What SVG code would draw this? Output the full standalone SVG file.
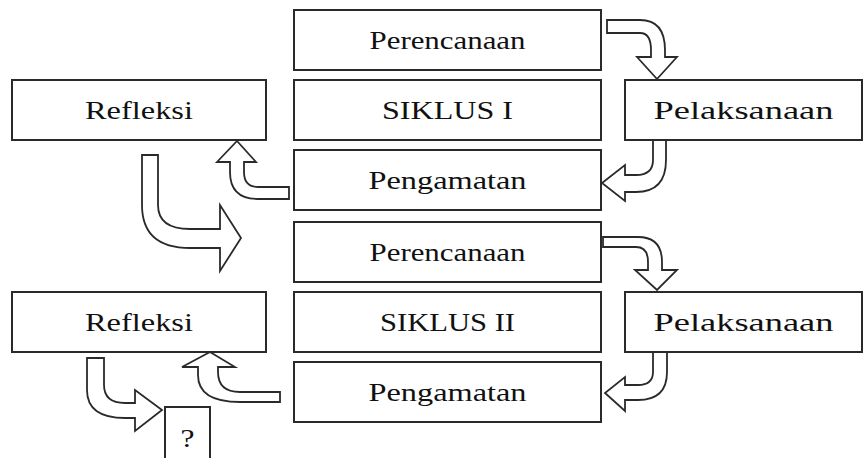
<svg xmlns="http://www.w3.org/2000/svg" width="867" height="458" viewBox="0 0 867 458">
<style>
.box{fill:#fff;stroke:#2a2a2a;stroke-width:2}
.arr{fill:#fff;stroke:#2a2a2a;stroke-width:1.8;stroke-linejoin:miter}
.t{font-family:"Liberation Serif","Times New Roman",serif;font-size:26px;fill:#111;text-anchor:middle}
</style>
<rect width="867" height="458" fill="#fff"/>
<g id="perencanaan1"><rect class="box" x="294" y="10" width="307" height="60"/><text class="t" x="447.5" y="49" textLength="156" lengthAdjust="spacingAndGlyphs">Perencanaan</text></g>
<g id="siklus1"><rect class="box" x="294" y="80" width="307" height="60"/><text class="t" x="447.5" y="119" textLength="131" lengthAdjust="spacingAndGlyphs">SIKLUS I</text></g>
<g id="pengamatan1"><rect class="box" x="294" y="150" width="307" height="60"/><text class="t" x="447.5" y="189" textLength="158" lengthAdjust="spacingAndGlyphs">Pengamatan</text></g>
<g id="refleksi1"><rect class="box" x="12" y="80" width="254" height="60"/><text class="t" x="139" y="119" textLength="108" lengthAdjust="spacingAndGlyphs">Refleksi</text></g>
<g id="pelaksanaan1"><rect class="box" x="625" y="80" width="237" height="60"/><text class="t" x="743.5" y="119" textLength="180" lengthAdjust="spacingAndGlyphs">Pelaksanaan</text></g>
<g id="perencanaan2"><rect class="box" x="294" y="222" width="307" height="60"/><text class="t" x="447.5" y="261" textLength="156" lengthAdjust="spacingAndGlyphs">Perencanaan</text></g>
<g id="siklus2"><rect class="box" x="294" y="292" width="307" height="60"/><text class="t" x="447.5" y="331" textLength="135" lengthAdjust="spacingAndGlyphs">SIKLUS II</text></g>
<g id="pengamatan2"><rect class="box" x="294" y="362" width="307" height="60"/><text class="t" x="447.5" y="401" textLength="158" lengthAdjust="spacingAndGlyphs">Pengamatan</text></g>
<g id="refleksi2"><rect class="box" x="12" y="292" width="254" height="60"/><text class="t" x="139" y="331" textLength="108" lengthAdjust="spacingAndGlyphs">Refleksi</text></g>
<g id="pelaksanaan2"><rect class="box" x="625" y="292" width="237" height="60"/><text class="t" x="743.5" y="331" textLength="180" lengthAdjust="spacingAndGlyphs">Pelaksanaan</text></g>
<g id="tanya"><rect class="box" x="165" y="407" width="45" height="60"/><text class="t" x="187.5" y="447" textLength="14" lengthAdjust="spacingAndGlyphs">?</text></g>
<g id="connectors">
<path class="arr" d="M607,20 L640,20 Q665,20 665,50 L665,57 L677,57 L657,79 L637,57 L651,57 L651,50 Q651,33 640,33 L607,33 Z"/>
<path class="arr" d="M653,140 L666,140 L666,160 Q666,192 636,192 L625,192 L625,201 L602,183 L625,165 L625,175 L636,175 Q653,175 653,160 Z"/>
<path class="arr" d="M289,187 L289,199 L258,199 Q230,199 230,172 L230,162 L217,162 L237,141 L256,162 L244,162 L244,172 Q244,187 258,187 Z"/>
<path class="arr" d="M142,155 L158,155 L158,205 Q158,229 190,229 L220,229 L220,205 L241,238 L220,271 L220,248 L190,248 Q142,248 142,205 Z"/>
<path class="arr" d="M603,237 L638,237 Q662,237 662,262 L662,270 L677,270 L657,290 L635,270 L648,270 L648,262 Q648,247 636,247 L603,247 Z"/>
<path class="arr" d="M653,352 L667,352 L667,372 Q667,400 638,400 L625,400 L625,411 L605,393 L625,377 L625,385 L638,385 Q653,385 653,372 Z"/>
<path class="arr" d="M280,392 L280,402 L240,402 Q198,402 198,375 L198,367 L182,367 L210,352 L235,367 L218,367 L218,372 Q218,392 240,392 Z"/>
<path class="arr" d="M87,358 L104,358 L104,385 Q104,403 125,403 L135,403 L135,390 L162,410 L135,431 L135,418 L125,418 Q87,418 87,390 Z"/>
</g>
</svg>
